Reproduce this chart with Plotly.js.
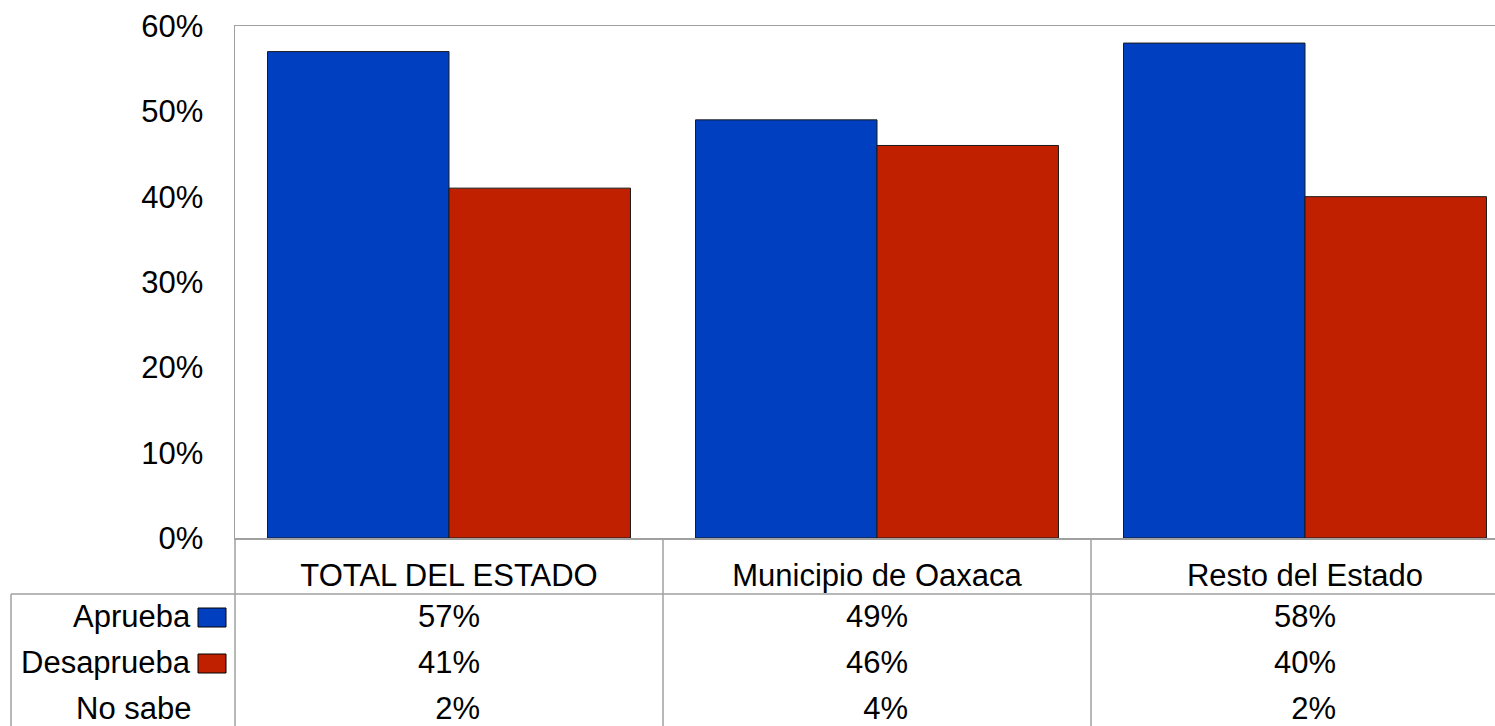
<!DOCTYPE html>
<html>
<head>
<meta charset="utf-8">
<script src="https://cdn.plot.ly/plotly-3.0.1.min.js"></script>
<style>
  html, body { margin: 0; padding: 0; background: #fff; }
  #chart { width: 1495px; height: 726px; }
</style>
</head>
<body>
<div id="chart"></div>
<script>
// ---- Data ----
const categories = ['TOTAL DEL ESTADO', 'Municipio de Oaxaca', 'Resto del Estado'];
const aprueba    = [57, 49, 58];
const desaprueba = [41, 46, 40];
const noSabe     = [2, 4, 2];
const rowLabels  = ['Aprueba', 'Desaprueba', 'No sabe'];
const yTickVals  = [0, 10, 20, 30, 40, 50, 60];

// ---- Style ----
const BLUE = '#0040C0';
const RED = '#C02000';
const LINE = '#a0a0a0';
const FONT = '"Liberation Sans", Arial, sans-serif';
const FS = 31;

const W = 1495, H = 726;
const M = { l: 235, r: 0, t: 26, b: 188 };
const plotW = W - M.l - M.r, plotH = H - M.t - M.b;
const xRange = [-0.5, -0.5 + plotW / 428];

const px2paperX = px => (px - M.l) / plotW;
const py2paperY = py => (H - M.b - py) / plotH;
const cat2paperX = c => (c - xRange[0]) / (xRange[1] - xRange[0]);
const fmt = v => (v < 10 ? '\u2007' : '') + v + '%';

const traces = [
  { type: 'bar', x: categories, y: aprueba, name: 'Aprueba',
    marker: { color: BLUE, line: { color: '#1a1a1a', width: 1 } } },
  { type: 'bar', x: categories, y: desaprueba, name: 'Desaprueba',
    marker: { color: RED, line: { color: '#1a1a1a', width: 1 } } }
];

const annotations = [];
const rowY = [616, 662, 708];
const rowSeries = [aprueba, desaprueba, noSabe];
rowLabels.forEach((lab, r) => {
  annotations.push({
    xref: 'paper', yref: 'paper', x: px2paperX(193), y: py2paperY(rowY[r]),
    xanchor: 'right', yanchor: 'middle', text: lab, showarrow: false,
    font: { family: FONT, size: FS, color: '#000' }
  });
  rowSeries[r].forEach((v, i) => {
    annotations.push({
      xref: 'x', yref: 'paper', x: categories[i], y: py2paperY(rowY[r]),
      xanchor: 'center', yanchor: 'middle', text: fmt(v), showarrow: false,
      font: { family: FONT, size: FS, color: '#000' }
    });
  });
});

const shapes = [];
// legend keys
[[608, 627, BLUE], [654, 673, RED]].forEach(([t, b, c]) => {
  shapes.push({ type: 'rect', xref: 'paper', yref: 'paper',
    x0: px2paperX(198), x1: px2paperX(226), y0: py2paperY(t), y1: py2paperY(b),
    fillcolor: c, line: { color: '#000', width: 1 } });
});
// table lines
const yBot = py2paperY(726);
shapes.push({ type: 'line', xref: 'paper', yref: 'paper', x0: px2paperX(11), x1: 1,
  y0: py2paperY(594), y1: py2paperY(594), line: { color: LINE, width: 1.5 } });
shapes.push({ type: 'line', xref: 'paper', yref: 'paper', x0: px2paperX(11), x1: px2paperX(11),
  y0: py2paperY(594), y1: yBot, line: { color: LINE, width: 1.5 } });
[ -0.5, 0.5, 1.5 ].forEach(c => {
  const xp = cat2paperX(c);
  shapes.push({ type: 'line', xref: 'paper', yref: 'paper', x0: xp, x1: xp,
    y0: 0, y1: yBot, line: { color: LINE, width: 1.5 } });
});

const layout = {
  width: W, height: H,
  margin: M,
  paper_bgcolor: '#fff', plot_bgcolor: '#fff',
  showlegend: false,
  barmode: 'group', bargap: 0.152, bargroupgap: 0,
  font: { family: FONT, size: FS, color: '#000' },
  xaxis: {
    type: 'category', range: xRange, showgrid: false, zeroline: false,
    showline: true, mirror: true, linecolor: LINE, linewidth: 1.5,
    ticks: 'outside', ticklen: 0, tickcolor: 'rgba(0,0,0,0)', ticklabelstandoff: 9,
    tickfont: { family: FONT, size: FS, color: '#000' }
  },
  yaxis: {
    range: [0, 60], tickvals: yTickVals, ticktext: yTickVals.map(v => v + '%'),
    showgrid: false, zeroline: false, showline: true, linecolor: LINE, linewidth: 1.5,
    ticks: 'outside', ticklen: 0, tickcolor: 'rgba(0,0,0,0)', ticklabelstandoff: 24,
    tickfont: { family: FONT, size: FS, color: '#000' }
  },
  annotations, shapes
};

Plotly.newPlot('chart', traces, layout, { staticPlot: true, displayModeBar: false });
</script>
</body>
</html>
